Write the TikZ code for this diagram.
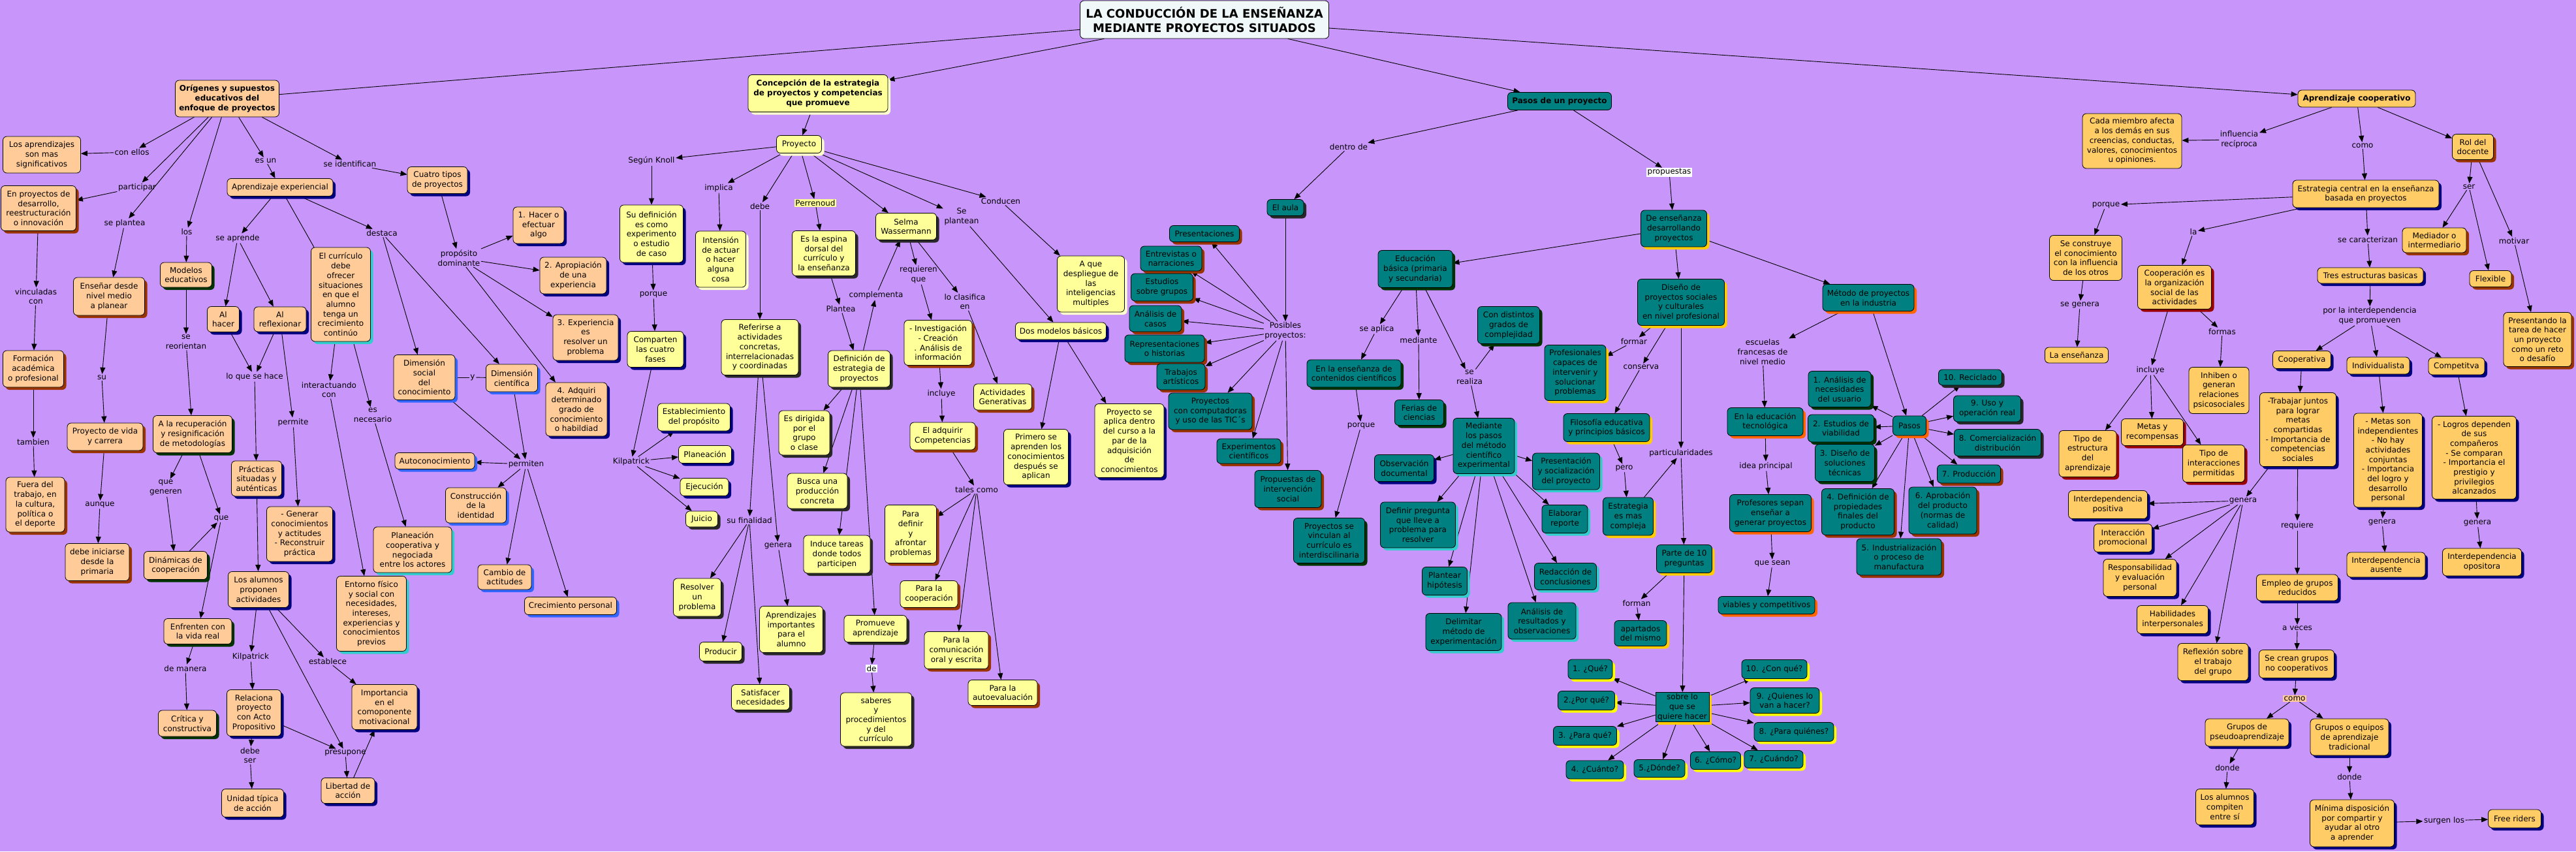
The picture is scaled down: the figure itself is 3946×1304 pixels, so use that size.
\documentclass[tikz,border=0pt]{standalone}
\usepackage{fontspec}
\setmainfont{DejaVu Sans}
\usetikzlibrary{arrows.meta,shadows}
\definecolor{cBg}{RGB}{200,150,250}
\definecolor{cPeach}{RGB}{255,204,153}
\definecolor{cYel}{RGB}{255,255,153}
\definecolor{cTeal}{RGB}{0,128,128}
\definecolor{cOra}{RGB}{255,204,102}
\definecolor{cTitle}{RGB}{240,248,250}
\definecolor{cNavy}{RGB}{0,0,128}
\definecolor{cBrown}{RGB}{153,51,0}
\definecolor{cDGreen}{RGB}{0,51,0}
\definecolor{cCyan}{RGB}{51,204,204}
\definecolor{cGold}{RGB}{255,204,0}
\definecolor{cOrange}{RGB}{255,102,0}
\definecolor{cRoyal}{RGB}{51,102,255}
\definecolor{cDark}{RGB}{40,40,40}
\definecolor{cPale}{RGB}{255,255,204}
\definecolor{cYellow}{RGB}{255,255,0}
\definecolor{cRed}{RGB}{153,0,0}
\newcommand\fs{\fontsize{12}{14.7}\selectfont}
\pgfdeclarelayer{back}\pgfdeclarelayer{edges}\pgfsetlayers{back,edges,main}
\begin{document}
\begin{tikzpicture}[x=1pt,y=-1pt,
 box/.style={draw=black,line width=0.8pt,rounded corners=6pt,align=center,font=\fs,inner sep=2pt,text=black},
 P/.style 2 args={box,fill=cPeach,minimum width=#1pt,minimum height=#2pt},
 Y/.style 2 args={box,fill=cYel,minimum width=#1pt,minimum height=#2pt},
 T/.style 2 args={box,fill=cTeal,minimum width=#1pt,minimum height=#2pt},
 O/.style 2 args={box,fill=cOra,minimum width=#1pt,minimum height=#2pt},
 bf/.style={font=\fs\bfseries},
 shd/.style={drop shadow={shadow xshift=4pt,shadow yshift=-4pt,fill=#1,opacity=1}},
 sN/.style={shd=cNavy}, sB/.style={shd=cBrown}, sG/.style={shd=cDGreen},
 sC/.style={shd=cCyan}, sY/.style={shd=cGold}, sO/.style={shd=cOrange},
 sR/.style={shd=cRoyal}, sK/.style={shd=cDark}, sL/.style={shd=cPale},
 sQ/.style={shd=cYellow}, sD/.style={shd=cRed},
 lab/.style={font=\fs,align=center,inner sep=1.5pt},
 ar/.style={line width=0.9pt,-{Triangle[length=10pt,width=8pt]}},
 ln/.style={line width=0.9pt}
]
\begin{pgfonlayer}{back}
\fill[cBg] (0,0) rectangle (3946,1304);
\end{pgfonlayer}
\path[use as bounding box] (0,0) rectangle (3946,1304);

% ---------- title
\node[box,fill=cTitle,minimum width=381pt,minimum height=58pt,font=\fontsize{18}{22}\selectfont\bfseries] (title) at (1845,30) {LA CONDUCCIÓN DE LA ENSEÑANZA\\MEDIANTE PROYECTOS SITUADOS};

% ---------- left section (peach)
\node[P={159}{56},bf] (orig) at (348,151) {Orígenes y supuestos\\educativos del\\enfoque de proyectos};
\node[P={119}{56}] (lap) at (64,237) {Los aprendizajes\\son mas\\significativos};
\node[P={115}{69},sB] (enp) at (59,319) {En proyectos de\\desarrollo,\\reestructuración\\o innovación};
\node[P={162}{27},sN] (aex) at (429,287) {Aprendizaje experiencial};
\node[P={92}{41},sN] (cua) at (670,276) {Cuatro tipos\\de proyectos};
\node[P={78}{56},sN] (h1) at (825,345) {1. Hacer o\\efectuar\\algo};
\node[P={102}{56},sN] (h2) at (878,422) {2. Apropiación\\de una\\experiencia};
\node[P={91}{144},sC] (cur) at (522,451) {El currículo\\debe\\ofrecer\\situaciones\\en que el\\alumno\\tenga un\\crecimiento\\continúo};
\node[P={79}{38},sG] (mod) at (285,421) {Modelos\\educativos};
\node[P={109}{58},sB] (ens) at (167,454) {Enseñar desde\\nivel medio\\a planear};
\node[P={93}{56},sB] (form) at (51,565) {Formación\\académica\\o profesional};
\node[P={116}{42},sB] (pvi) at (161,669) {Proyecto de vida\\y carrera};
\node[P={90}{84},sB] (fue) at (54,773) {Fuera del\\trabajo, en\\la cultura,\\política o\\el deporte};
\node[P={98}{57},sB] (dei) at (149,861) {debe iniciarse\\desde la\\primaria};
\node[P={121}{57},sG] (rec) at (295,665) {A la recuperación\\y resignificación\\de metodologías};
\node[P={97}{43},sG] (din) at (269,866) {Dinámicas de\\cooperación};
\node[P={49}{39},sN] (alh) at (342,489) {Al\\hacer};
\node[P={80}{38},sN] (alr) at (429,489) {Al\\reflexionar};
\node[P={77}{54},sN] (pra) at (393,733) {Prácticas\\situadas y\\auténticas};
\node[P={101}{84},sN] (gen) at (459,818) {- Generar\\conocimientos\\y actitudes\\- Reconstruir\\práctica};
\node[P={93}{55},sN] (lal) at (396,903) {Los alumnos\\proponen\\actividades};
\node[P={107}{115},sC] (ent) at (569,940) {Entorno físico\\y social con\\necesidades,\\intereses,\\experiencias y\\conocimientos\\previos};
\node[P={120}{70},sC] (pla) at (632,842) {Planeación\\cooperativa y\\negociada\\entre los actores};
\node[P={94}{69},sR] (dso) at (650,578) {Dimensión\\social\\del\\conocimiento};
\node[P={79}{42},sR] (dci) at (784,579) {Dimensión\\científica};
\node[P={100}{70},sN] (h3) at (897,517) {3. Experiencia\\es\\resolver un\\problema};
\node[P={94}{82},sN] (h4) at (883,627) {4. Adquiri\\determinado\\grado de\\conocimiento\\o habildiad};
\node[P={122}{25},sR] (aut) at (666,706) {Autoconocimiento};
\node[P={93}{54},sR] (con) at (729,774) {Construcción\\de la\\identidad};
\node[P={82}{38},sR] (cam) at (773,884) {Cambio de\\actitudes};
\node[P={141}{27},sR] (cre) at (874,928) {Crecimiento personal};
\node[P={104}{39},sG] (enf) at (303,967) {Enfrenten con\\la vida real};
\node[P={89}{40},sG] (cri) at (287,1108) {Crítica y\\constructiva};
\node[P={83}{71},sN] (rel) at (389,1092) {Relaciona\\proyecto\\con Acto\\Propositivo};
\node[P={100}{69},sN] (imp) at (589,1083) {Importancia\\en el\\comoponente\\motivacional};
\node[P={82}{39},sN] (lib) at (533,1211) {Libertad de\\acción};
\node[P={95}{43},sN] (uni) at (387,1230) {Unidad típica\\de acción};

\node[lab] (Lconellos) at (202,233) {con ellos};
\node[lab] (Lpart) at (210,287) {participar};
\node[lab] (Lseplan) at (191,342) {se plantea};
\node[lab] (Llos) at (286,355) {los};
\node[lab] (Lesun) at (407,246) {es un};
\node[lab] (Lseid) at (536,251) {se identifican};
\node[lab] (Lprop) at (703,395) {propósito\\dominante};
\node[lab] (Lseap) at (364,365) {se aprende};
\node[lab] (Ldest) at (585,357) {destaca};
\node[lab] (Lvinc) at (55,454) {vinculadas\\con};
\node[lab] (Lsu) at (156,578) {su};
\node[lab] (Ltamb) at (51,677) {tambien};
\node[lab] (Launq) at (153,773) {aunque};
\node[lab] (Lsereo) at (285,524) {se\\reorientan};
\node[lab] (Lquegen) at (254,747) {que\\generen};
\node[lab] (Lque) at (339,794) {que};
\node[lab] (Lloque) at (390,577) {lo que se hace};
\node[lab] (Lpermite) at (449,647) {permite};
\node[lab] (Linter) at (504,597) {interactuando\\con};
\node[lab] (Lesnec) at (571,636) {es\\necesario};
\node[lab] (Ly) at (724,578) {y};
\node[lab] (Lpermiten) at (806,711) {permiten};
\node[lab] (Ldemanera) at (284,1024) {de manera};
\node[lab] (Lkil) at (384,1006) {Kilpatrick};
\node[lab] (Lestab) at (502,1013) {establece};
\node[lab] (Lpresu) at (529,1153) {presupone};
\node[lab] (Ldebeser) at (383,1157) {debe\\ser};

% ---------- middle section (yellow)
\node[Y={214}{57},bf,sL] (concep) at (1253,143) {Concepción de la estrategia\\de proyectos y competencias\\que promueve};
\node[Y={69}{27},sL] (proy) at (1224,221) {Proyecto};
\node[Y={97}{88},sN] (sud) at (998,358) {Su definición\\es como\\experimento\\o estudio\\de caso};
\node[Y={77}{86},sL] (intn) at (1104,397) {Intensión\\de actuar\\o hacer\\alguna\\cosa};
\node[Y={97}{69},sK] (esp) at (1262,388) {Es la espina\\dorsal del\\currículo y\\la enseñanza};
\node[Y={93}{41},sK] (selma) at (1388,347) {Selma\\Wassermann};
\node[Y={103}{86},sL] (aque) at (1671,435) {A que\\despliegue de\\las\\inteligencias\\multiples};
\node[Y={86}{55},sN] (comp) at (1004,535) {Comparten\\las cuatro\\fases};
\node[Y={118}{85},sK] (refi) at (1164,532) {Referirse a\\actividades\\concretas,\\interrelacionadas\\y coordinadas};
\node[Y={95}{56},sK] (defi) at (1316,565) {Definición de\\estrategia de\\proyectos};
\node[Y={104}{69},sB] (inv) at (1437,525) {- Investigación\\- Creación\\. Análisis de\\información};
\node[Y={89}{40},sB] (actg) at (1536,608) {Actividades\\Generativas};
\node[Y={139}{26},sN] (dos) at (1625,507) {Dos modelos básicos};
\node[Y={99}{85},sN] (prim) at (1587,700) {Primero se\\aprenden los\\conocimientos\\después se\\aplican};
\node[Y={106}{113},sN] (psa) at (1730,675) {Proyecto se\\aplica dentro\\del curso a la\\par de la\\adquisición\\de\\conocimientos};
\node[Y={100}{42},sB] (adq) at (1444,668) {El adquirir\\Competencias};
\node[Y={79}{89},sB] (pdef) at (1395,818) {Para\\definir\\y\\afrontar\\problemas};
\node[Y={78}{68},sK] (edir) at (1232,663) {Es dirigida\\por el\\grupo\\o clase};
\node[Y={92}{54},sK] (busc) at (1252,752) {Busca una\\producción\\concreta};
\node[Y={102}{58},sK] (indu) at (1282,849) {Induce tareas\\donde todos\\participen};
\node[Y={111}{42},sN] (estb) at (1063,639) {Establecimiento\\del propósito};
\node[Y={81}{27},sN] (plan) at (1080,696) {Planeación};
\node[Y={74}{27},sN] (ejec) at (1079,746) {Ejecución};
\node[Y={49}{24},sK] (juic) at (1075,795) {Juicio};
\node[Y={73}{58},sK] (reso) at (1068,915) {Resolver\\un\\problema};
\node[Y={65}{29},sK] (prod) at (1104,998) {Producir};
\node[Y={97}{71},sK] (apim) at (1212,964) {Aprendizajes\\importantes\\para el\\alumno};
\node[Y={89}{39},sK] (sati) at (1165,1068) {Satisfacer\\necesidades};
\node[Y={96}{41},sK] (prom) at (1341,963) {Promueve\\aprendizaje};
\node[Y={109}{82},sK] (sabe) at (1342,1102) {saberes\\y\\procedimientos\\y del\\currículo};
\node[Y={88}{41},sB] (pcoo) at (1423,910) {Para la\\cooperación};
\node[Y={98}{57},sB] (pcom) at (1465,996) {Para la\\comunicación\\oral y escrita};
\node[Y={106}{39},sB] (paut) at (1536,1061) {Para la\\autoevaluación};

\node[lab] (Mknoll) at (998,246) {Según Knoll};
\node[lab] (Mimpl) at (1101,288) {implica};
\node[lab] (Mdebe) at (1164,316) {debe};
\node[lab,fill=cYel] (Mperr) at (1249,311) {Perrenoud};
\node[lab] (Mseplan) at (1473,332) {Se\\plantean};
\node[lab] (Mcond) at (1533,308) {Conducen};
\node[lab] (Mreq) at (1407,421) {requieren\\que};
\node[lab] (Mclas) at (1478,462) {lo clasifica\\en};
\node[lab] (Mcompl) at (1342,452) {complementa};
\node[lab] (Mplantea) at (1288,473) {Plantea};
\node[lab] (Mporq) at (1001,451) {porque};
\node[lab] (Mkil) at (967,707) {Kilpatrick};
\node[lab] (Mincl) at (1442,603) {incluye};
\node[lab] (Mtales) at (1496,750) {tales como};
\node[lab] (Msufin) at (1148,797) {su finalidad};
\node[lab] (Mgenera) at (1192,836) {genera};
\node[lab,fill=white] (Mde) at (1335,1024) {de};

% ---------- teal section
\node[T={159}{27},bf] (pasos) at (2389,155) {Pasos de un proyecto};
\node[T={56}{25},sK] (aula) at (1969,318) {El aula};
\node[T={107}{25},sB] (pres) at (1845,358) {Presentaciones};
\node[T={94}{38},sB] (entr) at (1794,396) {Entrevistas o\\narraciones};
\node[T={95}{42},sB] (estu) at (1780,440) {Estudios\\sobre grupos};
\node[T={80}{40},sB] (anac) at (1770,488) {Análisis de\\casos};
\node[T={122}{42},sB] (repr) at (1784,534) {Representaciones\\o historias};
\node[T={74}{40},sB] (trab) at (1809,577) {Trabajos\\artísticos};
\node[T={128}{56},sB] (pcomp) at (1854,630) {Proyectos\\con computadoras\\y uso de las TIC´s};
\node[T={98}{38},sB] (expe) at (1913,691) {Experimentos\\científicos};
\node[T={102}{57},sB] (prop) at (1973,749) {Propuestas de\\intervención\\social};
\node[T={101}{56},sY] (deen) at (2564,350) {De enseñanza\\desarrollando\\proyectos};
\node[T={114}{57},sG] (edub) at (2168,412) {Educación\\básica (primaria\\y secundaria)};
\node[T={133}{71},sY] (dise) at (2575,463) {Diseño de\\proyectos sociales\\y culturales\\en nivel profesional};
\node[T={140}{41},sO] (meto) at (2862,456) {Método de proyectos\\en la industria};
\node[T={144}{42},sG] (enen) at (2074,572) {En la enseñanza de\\contenidos científicos};
\node[T={75}{39},sG] (feri) at (2174,632) {Ferias de\\ciencias};
\node[T={95}{57},sG] (cond) at (2311,498) {Con distintos\\grados de\\complejidad};
\node[T={94}{85},sC] (medi) at (2273,683) {Mediante\\los pasos\\del método\\científico\\experimental};
\node[T={109}{69},sG] (pvin) at (2036,828) {Proyectos se\\vinculan al\\currículo es\\interdiscilinaria};
\node[T={91}{41},sN] (obse) at (2151,717) {Observación\\documental};
\node[T={103}{56},sC] (psoc) at (2399,722) {Presentación\\y socialización\\del proyecto};
\node[T={115}{70},sC] (dpre) at (2172,804) {Definir pregunta\\que lleve a\\problema para\\resolver};
\node[T={70}{43},sC] (elab) at (2397,795) {Elaborar\\reporte};
\node[T={69}{43},sC] (plah) at (2213,890) {Plantear\\hipótesis};
\node[T={116}{57},sC] (deli) at (2242,968) {Delimitar\\método de\\experimentación};
\node[T={95}{41},sC] (reda) at (2398,883) {Redacción de\\conclusiones};
\node[T={104}{56},sC] (anre) at (2362,951) {Análisis de\\resultados y\\observaciones};
\node[T={94}{85},sY] (profs) at (2413,571) {Profesionales\\capaces de\\intervenir y\\solucionar\\problemas};
\node[T={132}{43},sY] (filo) at (2461,655) {Filosofía educativa\\y principios básicos};
\node[T={77}{58},sY] (estr) at (2494,791) {Estrategia\\es mas\\compleja};
\node[T={85}{43},sY] (parte) at (2580,856) {Parte de 10\\preguntas};
\node[T={80}{39},sY] (apar) at (2513,970) {apartados\\del mismo};
\node[T={82}{43},sY,sharp corners] (sobre) at (2577,1083) {sobre lo\\que se\\quiere hacer};
\node[T={68}{30},sQ] (q1) at (2436,1025) {1. ¿Qué?};
\node[T={87}{29},sQ] (q2) at (2430,1073) {2.¿Por qué?};
\node[T={97}{29},sQ] (q3) at (2428,1127) {3. ¿Para qué?};
\node[T={88}{28},sQ] (q4) at (2443,1179) {4. ¿Cuánto?};
\node[T={78}{27},sQ] (q5) at (2542,1177) {5.¿Dónde?};
\node[T={77}{27},sQ] (q6) at (2628,1165) {6. ¿Cómo?};
\node[T={90}{27},sQ] (q7) at (2717,1163) {7. ¿Cuándo?};
\node[T={122}{29},sQ] (q8) at (2748,1121) {8. ¿Para quiénes?};
\node[T={106}{39},sQ] (q9) at (2734,1073) {9. ¿Quienes lo\\van a hacer?};
\node[T={100}{29},sQ] (q10) at (2718,1025) {10. ¿Con qué?};
\node[T={116}{43},sO] (edut) at (2704,646) {En la educación\\tecnológica};
\node[T={125}{57},sO] (profe) at (2712,786) {Profesores sepan\\enseñar a\\generar proyectos};
\node[T={148}{27},sO] (viab) at (2706,927) {viables y competitivos};
\node[T={51}{30},sO] (pasosb) at (2925,652) {Pasos};
\node[T={96}{55},sG] (p1) at (2818,596) {1. Análisis de\\necesidades\\del usuario};
\node[T={101}{42},sG] (p2) at (2820,656) {2. Estudios de\\viabilidad};
\node[T={91}{57},sG] (p3) at (2826,709) {3. Diseño de\\soluciones\\técnicas};
\node[T={111}{71},sB] (p4) at (2846,784) {4. Definición de\\propiedades\\finales del\\producto};
\node[T={130}{56},sB] (p5) at (2909,853) {5. Industrialización\\o proceso de\\manufactura};
\node[T={104}{72},sB] (p6) at (2976,782) {6. Aprobación\\del producto\\(normas de\\calidad)};
\node[T={97}{28},sB] (p7) at (3016,726) {7. Producción};
\node[T={133}{41},sK] (p8) at (3060,678) {8. Comercialización\\distribución};
\node[T={103}{40},sK] (p9) at (3044,626) {9. Uso y\\operación real};
\node[T={97}{24},sK] (p10) at (3018,578) {10. Reciclado};

\node[lab] (Tposs) at (1969,507) {Posibles\\proyectos:};
\node[lab] (Tdentro) at (2066,225) {dentro de};
\node[lab,fill=white] (Tpropu) at (2557,264) {propuestas};
\node[lab] (Tseapl) at (2109,504) {se aplica};
\node[lab] (Tmedia) at (2173,521) {mediante};
\node[lab] (Tsereal) at (2251,578) {se\\realiza};
\node[lab] (Tporq) at (2085,652) {porque};
\node[lab] (Tformar) at (2503,523) {formar};
\node[lab] (Tcons) at (2514,562) {conserva};
\node[lab] (Tpero) at (2488,717) {pero};
\node[lab] (Tpartic) at (2575,694) {particularidades};
\node[lab] (Tescu) at (2700,539) {escuelas\\francesas de\\nivel medio};
\node[lab] (Tidea) at (2705,714) {idea principal};
\node[lab] (Tquesean) at (2715,863) {que sean};
\node[lab] (Tforman) at (2507,924) {forman};

% ---------- right section (orange)
\node[O={180}{26},bf] (ac) at (3610,151) {Aprendizaje cooperativo};
\node[O={152}{84}] (cada) at (3266,216) {Cada miembro afecta\\a los demás en sus\\creencias, conductas,\\valores, conocimientos\\u opiniones.};
\node[O={63}{39},sB] (rol) at (3788,225) {Rol del\\docente};
\node[O={224}{42},sN] (estc) at (3624,297) {Estrategia central en la enseñanza\\basada en proyectos};
\node[O={98}{38},sB] (medr) at (3729,368) {Mediador o\\intermediario};
\node[O={64}{25},sB] (flex) at (3815,427) {Flexible};
\node[O={111}{69}] (secon) at (3195,395) {Se construye\\el conocimiento\\con la influencia\\de los otros};
\node[O={113}{67},sD] (coop) at (3331,440) {Cooperación es\\la organización\\social de las\\actividades};
\node[O={162}{24},sN] (tres) at (3631,422) {Tres estructuras basicas};
\node[O={97}{24}] (lens) at (3181,544) {La enseñanza};
\node[O={92}{71}] (inhi) at (3399,598) {Inhiben o\\generan\\relaciones\\psicosociales};
\node[O={88}{71},sD] (test) at (3198,695) {Tipo de\\estructura\\del\\aprendizaje};
\node[O={95}{41},sD] (meta) at (3297,662) {Metas y\\recompensas};
\node[O={95}{57},sD] (tint) at (3391,710) {Tipo de\\interacciones\\permitidas};
\node[O={89}{27},sN] (coopv) at (3526,551) {Cooperativa};
\node[O={96}{26},sN] (indi) at (3643,560) {Individualista};
\node[O={86}{26},sN] (compt) at (3763,561) {Competitva};
\node[O={104}{83},sB] (pres2) at (3887,520) {Presentando la\\tarea de hacer\\un proyecto\\como un reto\\o desafío};
\node[O={117}{113},sN] (trab2) at (3520,658) {-Trabajar juntos\\para lograr\\metas\\compartidas\\- Importancia de\\competencias\\sociales};
\node[O={105}{144},sN] (msi) at (3658,705) {- Metas son\\independientes\\- No hay\\actividades\\conjuntas\\- Importancia\\del logro y\\desarrollo\\personal};
\node[O={129}{127},sN] (logr) at (3790,701) {- Logros dependen\\de sus\\compañeros\\- Se comparan\\- Importancia el\\prestigio y\\privilegios\\alcanzados};
\node[O={121}{43},sN] (ipos) at (3229,773) {Interdependencia\\positiva};
\node[O={89}{43},sN] (ipro) at (3252,824) {Interacción\\promocional};
\node[O={112}{57},sN] (resp) at (3278,885) {Responsabilidad\\y evaluación\\personal};
\node[O={109}{43},sN] (habi) at (3328,949) {Habilidades\\interpersonales};
\node[O={108}{57},sN] (refl) at (3390,1014) {Reflexión sobre\\el trabajo\\del grupo};
\node[O={120}{38},sN] (iaus) at (3655,865) {Interdependencia\\ausente};
\node[O={121}{42},sN] (iopo) at (3802,861) {Interdependencia\\opositora};
\node[O={125}{40},sN] (empl) at (3519,900) {Empleo de grupos\\reducidos};
\node[O={115}{43},sN] (secr) at (3518,1017) {Se crean grupos\\no cooperativos};
\node[O={128}{42},sN] (gpse) at (3442,1122) {Grupos de\\pseudoaprendizaje};
\node[O={120}{56},sN] (gequ) at (3599,1129) {Grupos o equipos\\de aprendizaje\\tradicional};
\node[O={89}{55},sN] (lalc) at (3408,1236) {Los alumnos\\compiten\\entre sí};
\node[O={129}{72},sN] (mini) at (3603,1261) {Mínima disposición\\por compartir y\\ayudar al otro\\a aprender};
\node[O={81}{28},sN] (free) at (3852,1254) {Free riders};

\node[lab] (Ainfl) at (3430,214) {influencia\\recíproca};
\node[lab] (Acomo) at (3619,223) {como};
\node[lab] (Aporq) at (3226,314) {porque};
\node[lab] (Ala) at (3360,355) {la};
\node[lab] (Asecar) at (3627,367) {se caracterizan};
\node[lab] (Aser) at (3782,286) {ser};
\node[lab] (Amoti) at (3851,369) {motivar};
\node[lab] (Asegen) at (3186,467) {se genera};
\node[lab] (Aformas) at (3404,508) {formas};
\node[lab] (Aincl) at (3294,567) {incluye};
\node[lab] (Aporla) at (3630,484) {por la interdependencia\\que promueven};
\node[lab] (Agen1) at (3436,767) {genera};
\node[lab] (Areq) at (3519,805) {requiere};
\node[lab] (Agen2) at (3649,800) {genera};
\node[lab] (Agen3) at (3795,801) {genera};
\node[lab] (Aaveces) at (3519,962) {a veces};
\node[lab,fill=cPeach] (Acomo2) at (3515,1070) {como};
\node[lab] (Adonde1) at (3412,1176) {donde};
\node[lab] (Adonde2) at (3599,1190) {donde};
\node[lab] (Asurgen) at (3744,1257) {surgen los};

% ---------- connectors
\begin{pgfonlayer}{edges}
\draw[ln] (title) -- (orig);
\draw[ln] (aex) -- (cur);
\draw[ln] (dso) -- (Ly);
\draw[ln] (Ly) -- (dci);
\foreach \a/\b in {title/concep,title/pasos,title/ac,
 orig/Lconellos,Lconellos/lap,orig/Lpart,Lpart/enp,orig/Lseplan,Lseplan/ens,orig/Llos,Llos/mod,
 orig/Lesun,Lesun/aex,orig/Lseid,Lseid/cua,cua/Lprop,Lprop/h1,Lprop/h2,Lprop/h3,Lprop/h4,
 aex/Lseap,Lseap/alh,Lseap/alr,aex/Ldest,Ldest/dso,Ldest/dci,enp/Lvinc,Lvinc/form,ens/Lsu,Lsu/pvi,
 form/Ltamb,Ltamb/fue,pvi/Launq,Launq/dei,mod/Lsereo,Lsereo/rec,rec/Lquegen,Lquegen/din,rec/Lque,
 din/Lque,Lque/enf,alh/Lloque,alr/Lloque,Lloque/pra,alr/Lpermite,Lpermite/gen,pra/lal,cur/Linter,
 Linter/ent,cur/Lesnec,Lesnec/pla,dso/Lpermiten,dci/Lpermiten,Lpermiten/aut,Lpermiten/con,
 Lpermiten/cam,Lpermiten/cre,enf/Ldemanera,Ldemanera/cri,lal/Lkil,Lkil/rel,lal/Lestab,Lestab/imp,
 lal/Lpresu,rel/Lpresu,Lpresu/lib,lib/imp,rel/Ldebeser,Ldebeser/uni}
 \draw[ar] (\a) -- (\b);
\foreach \a/\b in {concep/proy,proy/Mknoll,Mknoll/sud,proy/Mimpl,Mimpl/intn,proy/Mdebe,Mdebe/refi,
 proy/Mperr,Mperr/esp,proy/selma,proy/Mseplan,Mseplan/dos,proy/Mcond,Mcond/aque,esp/Mplantea,
 Mplantea/defi,defi/Mcompl,Mcompl/selma,selma/Mreq,Mreq/inv,selma/Mclas,Mclas/actg,sud/Mporq,
 Mporq/comp,comp/Mkil,Mkil/estb,Mkil/plan,Mkil/ejec,Mkil/juic,refi/Msufin,Msufin/reso,Msufin/prod,
 Msufin/sati,refi/Mgenera,Mgenera/apim,defi/edir,defi/busc,defi/indu,defi/prom,inv/Mincl,Mincl/adq,
 adq/Mtales,Mtales/pdef,Mtales/pcoo,Mtales/pcom,Mtales/paut,dos/prim,dos/psa,prom/Mde,Mde/sabe}
 \draw[ar] (\a) -- (\b);
\foreach \a/\b in {pasos/Tdentro,Tdentro/aula,pasos/Tpropu,Tpropu/deen,aula/Tposs,Tposs/pres,
 Tposs/entr,Tposs/estu,Tposs/anac,Tposs/repr,Tposs/trab,Tposs/pcomp,Tposs/expe,Tposs/prop,
 deen/edub,deen/dise,deen/meto,edub/Tseapl,Tseapl/enen,edub/Tmedia,Tmedia/feri,edub/Tsereal,
 Tsereal/cond,Tsereal/medi,enen/Tporq,Tporq/pvin,medi/obse,medi/psoc,medi/dpre,medi/elab,
 medi/plah,medi/deli,medi/reda,medi/anre,dise/Tformar,Tformar/profs,dise/Tcons,Tcons/filo,
 filo/Tpero,Tpero/estr,dise/Tpartic,estr/Tpartic,Tpartic/parte,parte/Tforman,Tforman/apar,
 parte/sobre,sobre/q1,sobre/q2,sobre/q3,sobre/q4,sobre/q5,sobre/q6,sobre/q7,sobre/q8,sobre/q9,
 sobre/q10,meto/Tescu,Tescu/edut,edut/Tidea,Tidea/profe,profe/Tquesean,Tquesean/viab,
 meto/pasosb,pasosb/p1,pasosb/p2,pasosb/p3,pasosb/p4,pasosb/p5,pasosb/p6,pasosb/p7,pasosb/p8,
 pasosb/p9,pasosb/p10}
 \draw[ar] (\a) -- (\b);
\foreach \a/\b in {ac/Ainfl,Ainfl/cada,ac/Acomo,Acomo/estc,ac/rol,estc/Aporq,Aporq/secon,
 secon/Asegen,Asegen/lens,estc/Ala,Ala/coop,coop/Aformas,Aformas/inhi,coop/Aincl,Aincl/test,
 Aincl/meta,Aincl/tint,estc/Asecar,Asecar/tres,tres/Aporla,Aporla/coopv,Aporla/indi,Aporla/compt,
 rol/Aser,Aser/medr,Aser/flex,rol/Amoti,Amoti/pres2,coopv/trab2,trab2/Agen1,Agen1/ipos,
 Agen1/ipro,Agen1/resp,Agen1/habi,Agen1/refl,trab2/Areq,Areq/empl,empl/Aaveces,Aaveces/secr,
 secr/Acomo2,Acomo2/gpse,Acomo2/gequ,gpse/Adonde1,Adonde1/lalc,gequ/Adonde2,Adonde2/mini,
 mini/Asurgen,Asurgen/free,indi/msi,msi/Agen2,Agen2/iaus,compt/logr,logr/Agen3,Agen3/iopo}
 \draw[ar] (\a) -- (\b);
\end{pgfonlayer}
\end{tikzpicture}
\end{document}
